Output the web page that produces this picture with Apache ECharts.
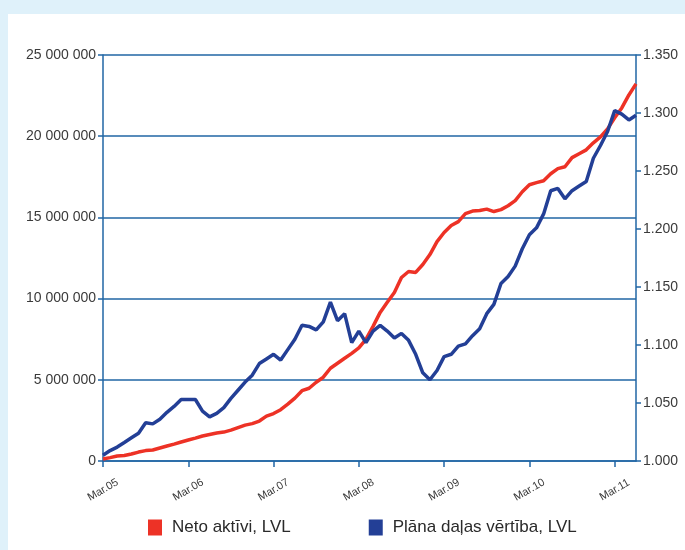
<!DOCTYPE html>
<html>
<head>
<meta charset="utf-8">
<script src="https://cdn.jsdelivr.net/npm/echarts@6/dist/echarts.min.js"></script>
<style>
  html, body { margin: 0; padding: 0; background: #dff1fa; }
  #chart { width: 685px; height: 550px; }
</style>
</head>
<body>
<div id="chart"></div>
<script>
// monthly, Mar.05 .. Jun.11
var monthNames = ['Jan', 'Feb', 'Mar', 'Apr', 'May', 'Jun', 'Jul', 'Aug', 'Sep', 'Oct', 'Nov', 'Dec'];
var months = [];
for (var k = 0; k < 76; k++) {
    var m = (2 + k) % 12;
    var y = 5 + Math.floor((2 + k) / 12);
    months.push(monthNames[m] + '.' + (y < 10 ? '0' + y : y));
}

// Neto aktīvi, LVL (left axis)
var netAssets = [
    120000, 210000, 310000, 340000, 430000, 550000, 640000, 680000, 800000, 920000,
    1040000, 1170000, 1290000, 1410000, 1540000, 1630000, 1720000, 1780000, 1900000, 2060000,
    2210000, 2300000, 2460000, 2760000, 2920000, 3160000, 3500000, 3870000, 4330000, 4480000,
    4850000, 5160000, 5710000, 6020000, 6330000, 6630000, 6970000, 7490000, 8290000, 9150000,
    9770000, 10380000, 11300000, 11670000, 11610000, 12100000, 12710000, 13510000, 14070000, 14500000,
    14740000, 15230000, 15390000, 15420000, 15510000, 15360000, 15480000, 15720000, 16030000, 16580000,
    17010000, 17140000, 17260000, 17690000, 18000000, 18120000, 18680000, 18920000, 19160000, 19590000,
    19960000, 20450000, 21130000, 21740000, 22540000, 23220000
];

// Plāna daļas vērtība, LVL (right axis)
var unitValue = [
    1.005, 1.009, 1.012, 1.016, 1.020, 1.024, 1.033, 1.032, 1.036, 1.042,
    1.047, 1.053, 1.053, 1.053, 1.043, 1.038, 1.041, 1.046, 1.054, 1.061,
    1.068, 1.074, 1.084, 1.088, 1.092, 1.087, 1.096, 1.105, 1.117, 1.116,
    1.113, 1.120, 1.137, 1.121, 1.127, 1.102, 1.112, 1.102, 1.112, 1.117,
    1.112, 1.106, 1.110, 1.104, 1.092, 1.076, 1.070, 1.078, 1.090, 1.092,
    1.099, 1.101, 1.108, 1.114, 1.127, 1.135, 1.153, 1.159, 1.168, 1.183,
    1.195, 1.201, 1.213, 1.233, 1.235, 1.226, 1.233, 1.237, 1.241, 1.261,
    1.272, 1.284, 1.302, 1.299, 1.294, 1.298
];

var leftTicks = [0, 25000000, 5000000];   // min, max, step
var rightTicks = [1.0, 1.35, 0.05];

var axisBlue = '#2166a5';
var labelGrey = '#3a3a3a';

function yearly(index) {
    return index % 12 === 0;
}

var chart = echarts.init(document.getElementById('chart'));
var option = {
    backgroundColor: '#dff1fa',
    animation: false,
    textStyle: { fontFamily: '"Liberation Sans", Arial, sans-serif' },
    graphic: [{
        type: 'rect',
        z: -10,
        shape: { x: 8, y: 14, width: 677, height: 536 },
        style: { fill: '#ffffff' }
    }],
    grid: { left: 103, right: 49, top: 55, bottom: 89 },
    legend: {
        left: 143,
        top: 514,
        icon: 'rect',
        itemWidth: 14,
        itemHeight: 16,
        itemGap: 78,
        textStyle: { fontSize: 17, color: '#2a2a2a', padding: [0, 0, 0, 5] },
        data: ['Neto aktīvi, LVL', 'Plāna daļas vērtība, LVL']
    },
    xAxis: {
        type: 'category',
        boundaryGap: false,
        data: months,
        axisLine: { lineStyle: { color: axisBlue, width: 1.5 } },
        axisTick: { interval: yearly, length: 6, lineStyle: { color: axisBlue, width: 1.5 } },
        axisLabel: {
            interval: yearly,
            rotate: 30,
            align: 'center',
            verticalAlign: 'middle',
            margin: 29,
            fontSize: 11,
            color: labelGrey
        },
        splitLine: { show: false }
    },
    yAxis: [{
        type: 'value',
        position: 'left',
        min: leftTicks[0],
        max: leftTicks[1],
        interval: leftTicks[2],
        axisLine: { show: true, lineStyle: { color: axisBlue, width: 1.5 } },
        axisTick: { show: true, length: 5, lineStyle: { color: axisBlue, width: 1.5 } },
        axisLabel: {
            fontSize: 14,
            color: labelGrey,
            margin: 7,
            formatter: function (v) {
                return String(v).replace(/\B(?=(\d{3})+(?!\d))/g, ' ');
            }
        },
        splitLine: { show: true, lineStyle: { color: axisBlue, width: 1.5 } }
    }, {
        type: 'value',
        position: 'right',
        min: rightTicks[0],
        max: rightTicks[1],
        interval: rightTicks[2],
        axisLine: { show: true, lineStyle: { color: axisBlue, width: 1.5 } },
        axisTick: { show: true, length: 5, lineStyle: { color: axisBlue, width: 1.5 } },
        axisLabel: {
            fontSize: 14,
            color: labelGrey,
            margin: 7,
            formatter: function (v) { return v.toFixed(3); }
        },
        splitLine: { show: false }
    }],
    series: [{
        name: 'Neto aktīvi, LVL',
        type: 'line',
        yAxisIndex: 0,
        data: netAssets,
        symbol: 'none',
        itemStyle: { color: '#ed3226' },
        lineStyle: { color: '#ed3226', width: 3.5 }
    }, {
        name: 'Plāna daļas vērtība, LVL',
        type: 'line',
        yAxisIndex: 1,
        data: unitValue,
        symbol: 'none',
        itemStyle: { color: '#233f96' },
        lineStyle: { color: '#233f96', width: 3.5 }
    }]
};
chart.setOption(option);
</script>
</body>
</html>
